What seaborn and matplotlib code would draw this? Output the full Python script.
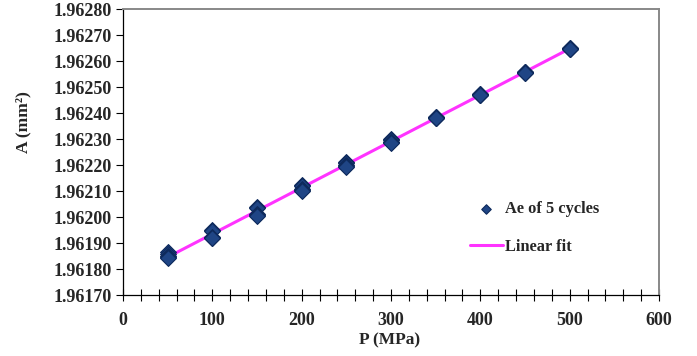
import numpy as np
import pandas as pd
import matplotlib
matplotlib.use("Agg")
import matplotlib.pyplot as plt
import seaborn as sns
from matplotlib.ticker import MultipleLocator, FormatStrFormatter

# Data: 5 cycles at each pressure (MPa), area A (mm^2)
pressure = [50, 100, 150, 200, 250, 300, 350, 400, 450, 500]
cycle1 = [1.961865, 1.961950, 1.962040, 1.962125, 1.962212, 1.962300, 1.962386, 1.962473, 1.962558, 1.962650]
cycle2 = [1.961858, 1.961945, 1.962035, 1.962120, 1.962208, 1.962297, 1.962384, 1.962472, 1.962557, 1.962649]
cycle3 = [1.961850, 1.961925, 1.962010, 1.962106, 1.962200, 1.962290, 1.962382, 1.962471, 1.962556, 1.962648]
cycle4 = [1.961845, 1.961920, 1.962006, 1.962103, 1.962196, 1.962288, 1.962380, 1.962470, 1.962555, 1.962647]
cycle5 = [1.961842, 1.961918, 1.962004, 1.962101, 1.962194, 1.962286, 1.962379, 1.962469, 1.962554, 1.962646]

x_ticks = [0, 100, 200, 300, 400, 500, 600]
y_ticks = [1.96170, 1.96180, 1.96190, 1.96200, 1.96210, 1.96220, 1.96230,
           1.96240, 1.96250, 1.96260, 1.96270, 1.96280]

sns.set_style("white")
plt.rcParams['font.family'] = ['Liberation Serif', 'DejaVu Serif']

df = pd.DataFrame({
    "P": pressure * 5,
    "A": cycle1 + cycle2 + cycle3 + cycle4 + cycle5,
})

coef = np.polyfit(df["P"], df["A"], 1)
fit_x = np.array([min(pressure), max(pressure)])
fit_df = pd.DataFrame({"P": fit_x, "A": np.polyval(coef, fit_x)})

fig = plt.figure(figsize=(6.97, 3.56), dpi=100)
ax = fig.add_axes([123/697, 1 - 295/356, (659-123)/697, (295-9)/356])

sns.lineplot(data=fit_df, x="P", y="A", ax=ax, color="#FF33FF", linewidth=2.2,
             label="Linear fit", zorder=2)
sns.scatterplot(data=df, x="P", y="A", ax=ax, marker="D", s=65, color="#1F4585",
                edgecolor="#0E2A5C", linewidth=0.8, label="Ae of 5 cycles", zorder=3)

ax.set_xlim(0, 600)
ax.set_ylim(1.96170, 1.96280)
ax.set_xticks(x_ticks)
ax.set_yticks(y_ticks)
ax.xaxis.set_minor_locator(MultipleLocator(20))
ax.yaxis.set_major_formatter(FormatStrFormatter("%.5f"))

for lab in ax.get_xticklabels() + ax.get_yticklabels():
    lab.set_fontweight("bold")
    lab.set_fontsize(13)

ax.tick_params(axis="x", which="both", direction="inout", length=8, width=0.8,
               color="black", bottom=True, pad=8)
ax.tick_params(axis="y", which="major", direction="out", length=5, width=0.8,
               color="black", left=True, pad=3)

for side in ["left", "bottom"]:
    ax.spines[side].set_color("black")
    ax.spines[side].set_linewidth(0.9)
for side in ["top", "right"]:
    ax.spines[side].set_color("#888888")
    ax.spines[side].set_linewidth(1.4)

ax.set_xlabel("P (MPa)", fontsize=12.5, fontweight="bold")
ax.xaxis.set_label_coords((390-123)/(659-123), -(332-295)/(295-9))
ax.set_ylabel("A (mm²)", fontsize=12.5, fontweight="bold")
ax.yaxis.set_label_coords(-(123-31)/(659-123), (295-122)/(295-9))

handles, labels = ax.get_legend_handles_labels()
order = [labels.index("Ae of 5 cycles"), labels.index("Linear fit")]
leg = ax.legend([handles[i] for i in order], [labels[i] for i in order],
                loc="center left", bbox_to_anchor=((455-123)/(659-123), (295-228)/(295-9)),
                frameon=False, prop={"weight": "bold", "size": 11.8}, labelspacing=1.3,
                handlelength=2.0, handletextpad=0.15, markerscale=0.6)

fig.savefig("out.png", dpi=100)
